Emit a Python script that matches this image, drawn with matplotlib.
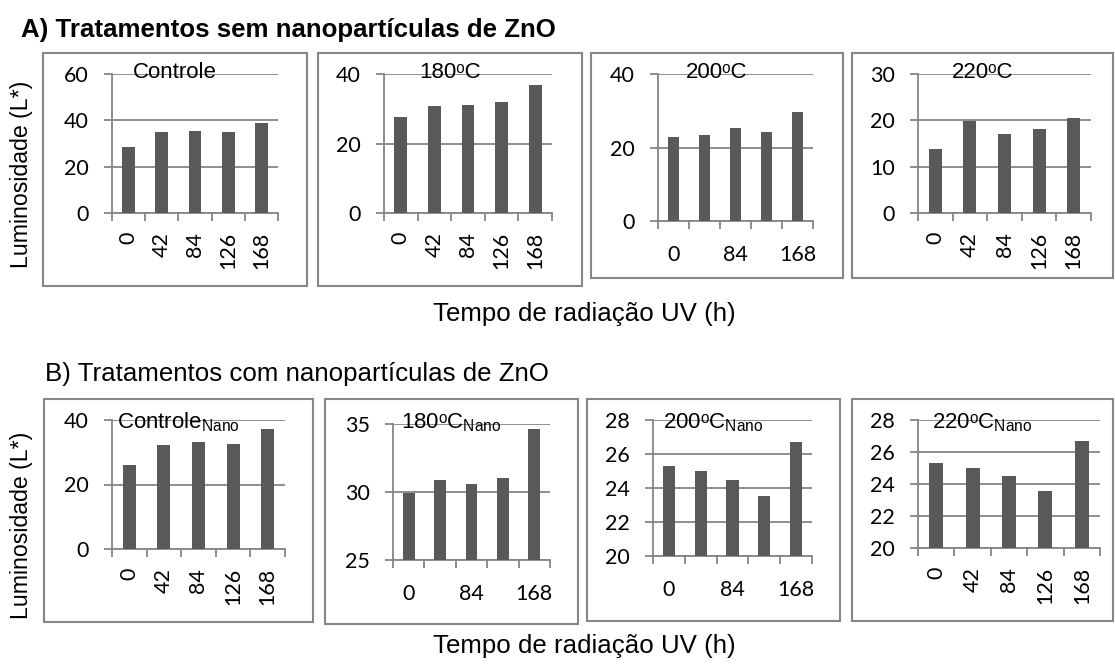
import matplotlib.pyplot as plt
import numpy as np
from matplotlib.patches import Rectangle

plt.rcParams["font.family"] = ["Liberation Sans", "DejaVu Sans"]
plt.rcParams["mathtext.default"] = "regular"

W, H = 1115, 666

# Tempo de radiação UV (h)
times = ["0", "42", "84", "126", "168"]

# A) sem nanopartículas
controle = [28.7, 34.9, 35.3, 34.9, 38.7]
t180 = [27.6, 30.8, 31.0, 31.8, 36.7]
t200 = [22.9, 23.5, 25.2, 24.3, 29.6]
t220 = [13.8, 19.8, 17.1, 18.1, 20.4]

# B) com nanopartículas
controle_nano = [26.2, 32.4, 33.3, 32.7, 37.2]
t180_nano = [29.9, 30.9, 30.6, 31.0, 34.6]
t200_nano = [25.3, 25.0, 24.5, 23.55, 26.7]
t220_nano = [25.3, 25.0, 24.5, 23.55, 26.7]

yticks_a = [[0, 20, 40, 60], [0, 20, 40], [0, 20, 40], [0, 10, 20, 30]]
yticks_b = [[0, 20, 40], [25, 30, 35], [20, 22, 24, 26, 28], [20, 22, 24, 26, 28]]

titles_a = ["Controle", "180ᵒC", "200ᵒC", "220ᵒC"]
titles_b = ["Controle$_{Nano}$", "180ᵒC$_{Nano}$", "200ᵒC$_{Nano}$", "220ᵒC$_{Nano}$"]

GRAY = "#868686"
BAR = "#595959"
TICKFONT = dict(family="Lato", fontsize=15.5)

fig = plt.figure(figsize=(W / 100, H / 100), dpi=100)

# layout in pixels: (box x0, x1, y0, y1), (axes x0, x1, ytop, ybottom), rotated labels, title baseline
layout = [
    ((43, 307, 53, 286), (112, 278, 74, 213), True, 78),
    ((318, 582, 53, 286), (384, 552, 74, 213), True, 78),
    ((591, 843, 53, 278), (658, 813, 74, 221), False, 78),
    ((852, 1113, 53, 278), (918, 1091, 74, 213), True, 78),
    ((44, 313, 399, 622), (112, 285, 420, 549), True, 428),
    ((325, 578, 399, 624), (393, 550, 424, 560), False, 428),
    ((587, 840, 399, 621), (653, 812, 420, 556), False, 428),
    ((852, 1113, 399, 621), (918, 1100, 420, 548), True, 428),
]

series = [controle, t180, t200, t220, controle_nano, t180_nano, t200_nano, t220_nano]
yticks = yticks_a + yticks_b
titles = titles_a + titles_b

for vals, yt, title, (box, axp, rotated, base) in zip(series, yticks, titles, layout):
    bx0, bx1, by0, by1 = box
    fig.patches.append(Rectangle((bx0 / W, 1 - by1 / H), (bx1 - bx0) / W, (by1 - by0) / H,
                                 transform=fig.transFigure, fill=False, edgecolor=GRAY, lw=1.5))
    ax0, ax1, ayt, ayb = axp
    ax = fig.add_axes([ax0 / W, 1 - ayb / H, (ax1 - ax0) / W, (ayb - ayt) / H])
    x = np.arange(len(times))
    ax.bar(x, vals, width=0.38, color=BAR, zorder=3)
    ax.set_xlim(-0.5, len(times) - 0.5)
    ax.set_ylim(yt[0], yt[-1])
    ax.set_yticks(yt)
    ax.set_yticklabels([str(v) for v in yt], **TICKFONT)
    ax.yaxis.grid(True, color=GRAY, lw=1.3, zorder=0)
    ax.set_axisbelow(True)
    for s in ["top", "right"]:
        ax.spines[s].set_visible(False)
    for s in ["left", "bottom"]:
        ax.spines[s].set_color(GRAY)
        ax.spines[s].set_linewidth(1.3)
    ax.set_xticks(np.arange(-0.5, len(times), 1))
    ax.set_xticklabels([])
    ax.set_xticks(x, minor=True)
    if rotated:
        ax.set_xticklabels(times, minor=True, rotation=90, **TICKFONT)
        ax.tick_params(axis="x", which="minor", length=0, pad=13.5)
    else:
        labs = [t if i % 2 == 0 else "" for i, t in enumerate(times)]
        ax.set_xticklabels(labs, minor=True, **TICKFONT)
        ax.tick_params(axis="x", which="minor", length=0, pad=17)
    ax.tick_params(axis="x", which="major", length=5.8, color=GRAY, width=1.3)
    ax.tick_params(axis="y", length=5.5, color=GRAY, width=1.3, pad=11)
    ax.patch.set_alpha(0)
    fig.text((bx0 + bx1) / 2 / W, 1 - base / H, title, ha="center", va="baseline", fontsize=16)

fig.text(21 / W, 1 - 37 / H, "A) Tratamentos sem nanopartículas de ZnO", fontsize=18.6,
         fontweight="bold", va="baseline")
fig.text(45 / W, 1 - 381 / H, "B) Tratamentos com nanopartículas de ZnO", fontsize=18.6,
         va="baseline")
fig.text(584 / W, 1 - 321 / H, "Tempo de radiação UV (h)", fontsize=18.6, ha="center", va="baseline")
fig.text(584 / W, 1 - 653 / H, "Tempo de radiação UV (h)", fontsize=18.6, ha="center", va="baseline")
fig.text(22 / W, 1 - 174 / H, "Luminosidade (L*)", fontsize=16.7, rotation=90, ha="center", va="center")
fig.text(22 / W, 1 - 525 / H, "Luminosidade (L*)", fontsize=16.7, rotation=90, ha="center", va="center")

fig.savefig("out.png", dpi=100)
